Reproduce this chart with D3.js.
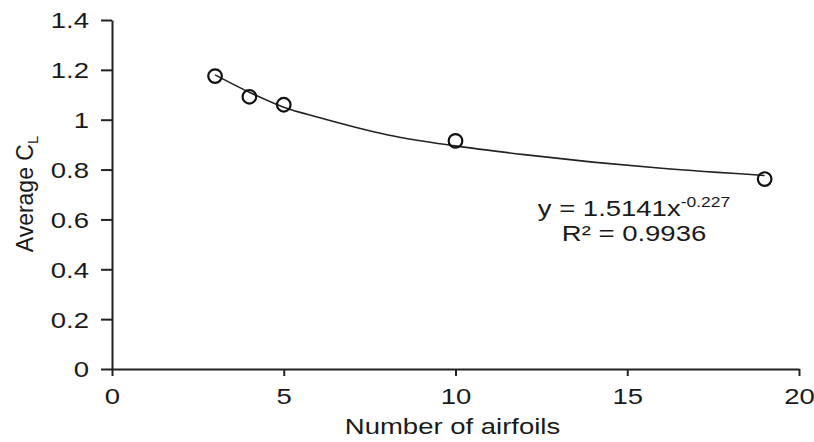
<!DOCTYPE html>
<html lang="en">
  <head>
    <meta charset="UTF-8" />
    <script src="https://d3js.org/d3.v7.min.js"></script>
    <style>
      body { margin: 0; background: #fff; }
      text { font-family: "Liberation Sans", Arial, sans-serif; fill: #1a1a1a; }
    </style>
    <title>Average CL</title>
  </head>
  <body>
    <svg id="chart" width="814" height="442"></svg>
    <script>
      // data
      const airfoils = [3, 4, 5, 10, 19];
      const avgCL = [1.175, 1.092, 1.06, 0.915, 0.762];
      // power trendline as drawn
      const trendX = [3, 4, 5, 6, 8, 10, 12, 14, 16, 19];
      const trendY = [1.18, 1.11, 1.05, 1.01, 0.94, 0.895, 0.86, 0.83, 0.805, 0.776];
      const xTicks = [0, 5, 10, 15, 20];
      const yTicks = [0, 0.2, 0.4, 0.6, 0.8, 1, 1.2, 1.4];

      const svg = d3.select("#chart");
      const sx = 1.25; // text is wider than tall in the picture

      const x = d3.scaleLinear().domain([0, 20]).range([112, 799]);
      const y = d3.scaleLinear().domain([0, 1.4]).range([369, 20]);

      // axes
      const yAxis = svg
        .append("g")
        .attr("transform", "translate(112,0)")
        .call(d3.axisLeft(y).tickValues(yTicks).tickSize(11).tickSizeOuter(0).tickFormat(d3.format("")));
      const xAxis = svg
        .append("g")
        .attr("transform", "translate(0,369)")
        .call(d3.axisBottom(x).tickValues(xTicks).tickSize(7).tickSizeOuter(0));

      [xAxis, yAxis].forEach((g) => {
        g.select(".domain").attr("stroke", "#222").attr("stroke-width", 2);
        g.selectAll(".tick line").attr("stroke", "#222").attr("stroke-width", 2);
        g.selectAll(".tick text")
          .attr("font-size", 22)
          .attr("fill", "#1a1a1a")
          .style("font-family", "Liberation Sans, Arial, sans-serif");
      });
      yAxis.selectAll(".tick text").attr("x", -23 / sx).attr("dy", "0.36em").attr("transform", `scale(${sx},1)`);
      xAxis.selectAll(".tick text").attr("y", 19).attr("transform", `scale(${sx},1)`);

      // trendline
      const line = d3
        .line()
        .x((d) => x(d[0]))
        .y((d) => y(d[1]))
        .curve(d3.curveMonotoneX);
      svg
        .append("path")
        .datum(d3.zip(trendX, trendY))
        .attr("d", line)
        .attr("fill", "none")
        .attr("stroke", "#222")
        .attr("stroke-width", 1.6);

      // markers
      svg
        .selectAll("circle.pt")
        .data(d3.zip(airfoils, avgCL))
        .join("circle")
        .attr("class", "pt")
        .attr("cx", (d) => x(d[0]))
        .attr("cy", (d) => y(d[1]))
        .attr("r", 6.8)
        .attr("fill", "none")
        .attr("stroke", "#111")
        .attr("stroke-width", 2.2);

      // axis titles
      svg
        .append("text")
        .attr("transform", `translate(${x(10) - 3},434) scale(${sx},1)`)
        .attr("text-anchor", "middle")
        .attr("font-size", 22)
        .text("Number of airfoils");

      const yt = svg
        .append("text")
        .attr("transform", "translate(33,194) rotate(-90)")
        .attr("text-anchor", "middle")
        .attr("font-size", 23);
      yt.append("tspan").text("Average C");
      yt.append("tspan").attr("font-size", 15).attr("dy", 5).text("L");

      // trendline label
      const eq = svg
        .append("text")
        .attr("transform", `translate(634,216) scale(${sx},1)`)
        .attr("text-anchor", "middle")
        .attr("font-size", 22);
      eq.append("tspan").text("y = 1.5141x");
      eq.append("tspan").attr("font-size", 14).attr("dy", -9).text("-0.227");
      svg
        .append("text")
        .attr("transform", `translate(634,241) scale(${sx},1)`)
        .attr("text-anchor", "middle")
        .attr("font-size", 22)
        .text("R² = 0.9936");
    </script>
  </body>
</html>
